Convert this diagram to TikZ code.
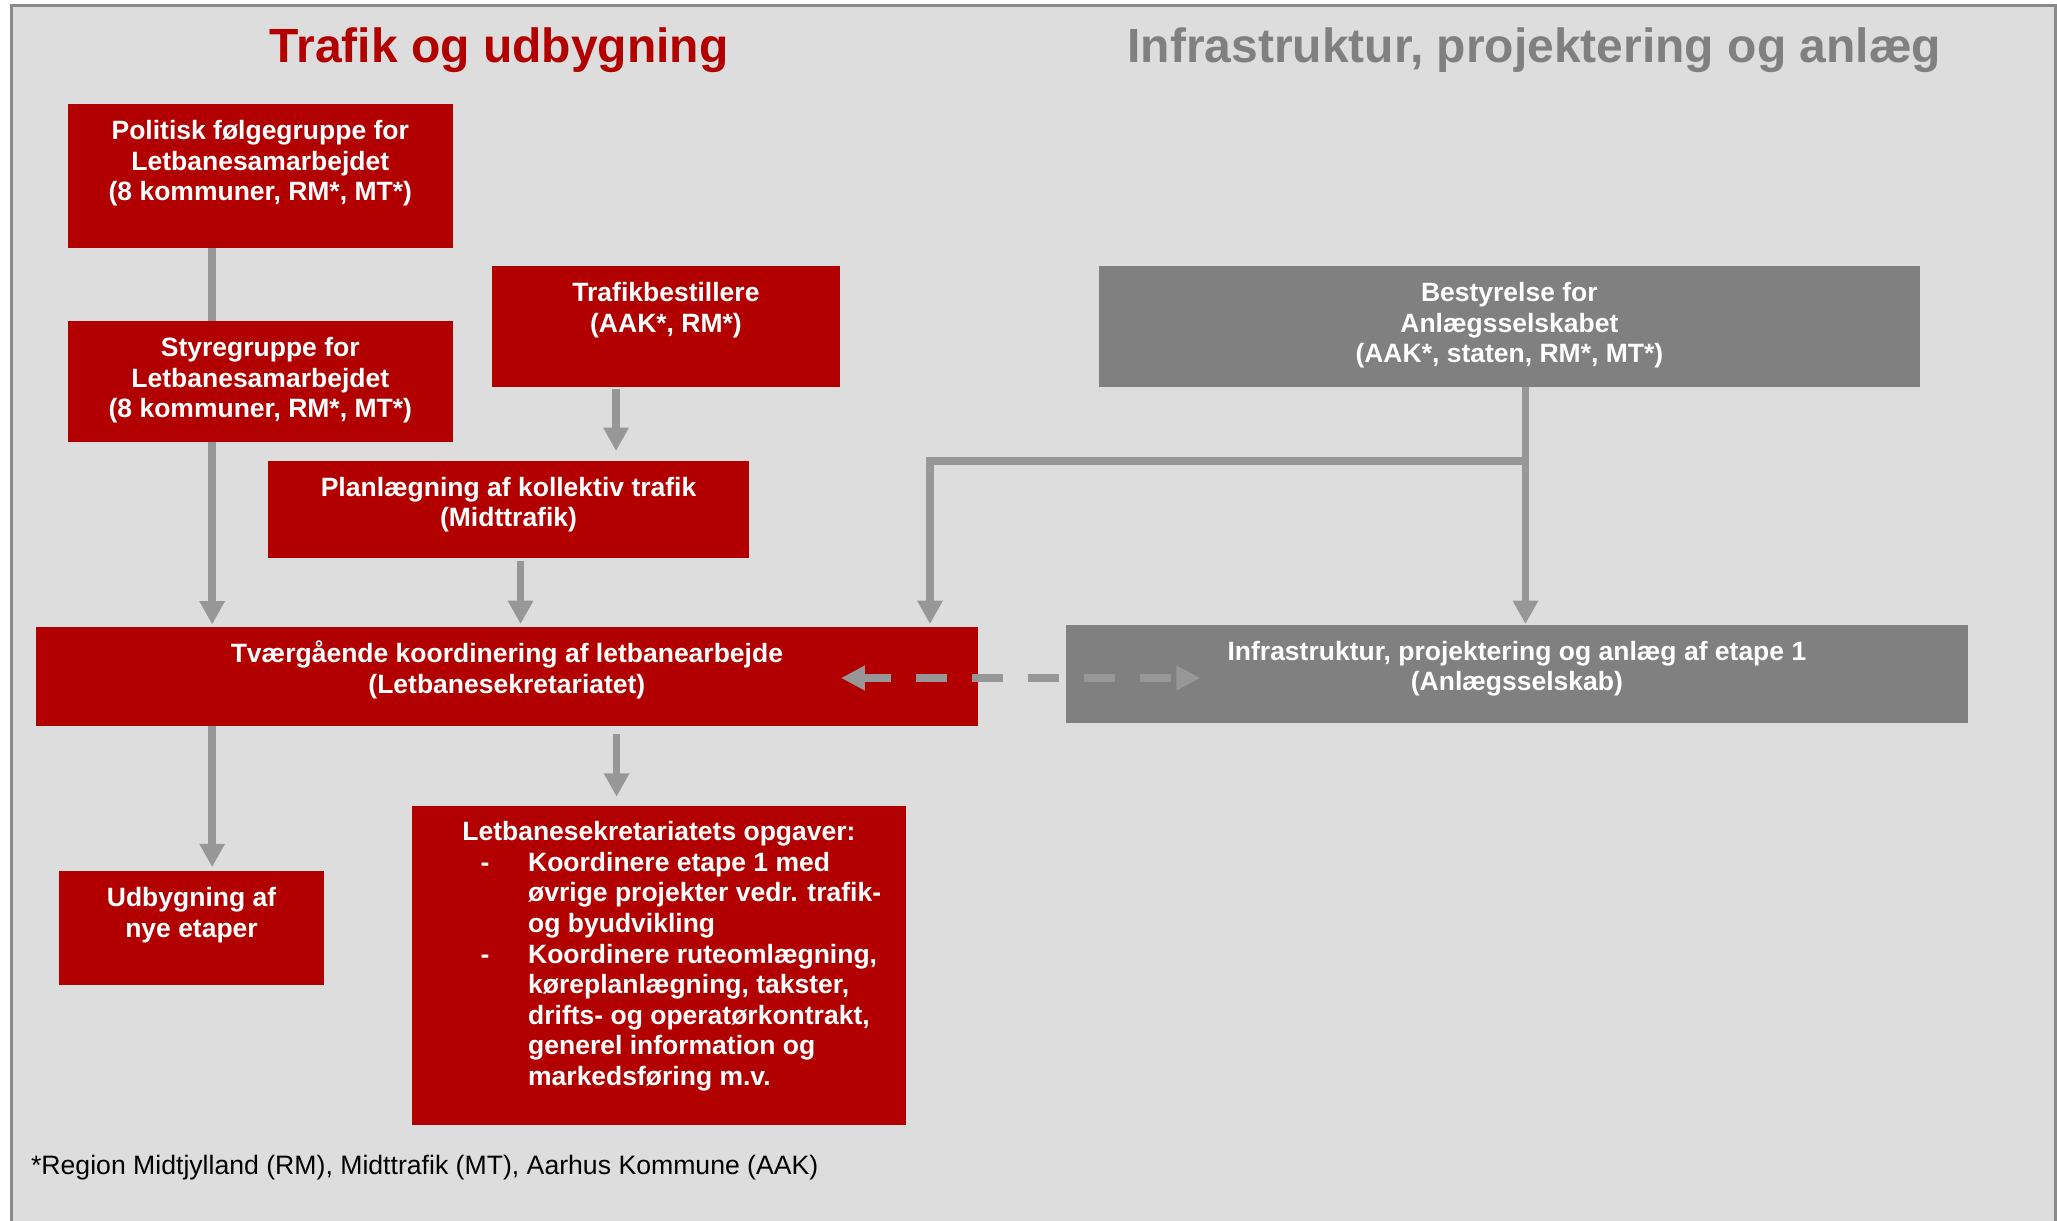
\documentclass[tikz,border=0pt]{standalone}
\usepackage{fontspec}
\setmainfont{Liberation Sans}
\usetikzlibrary{arrows.meta}
\definecolor{tred}{HTML}{B20000}
\definecolor{tgray}{HTML}{808080}
\definecolor{bgc}{HTML}{DDDDDD}
\definecolor{agray}{HTML}{979797}
\definecolor{framec}{HTML}{8A8A8A}
\newcommand{\bxt}[3]{\parbox[c][#2pt][t]{#1pt}{\centering\vspace*{8pt}\rule{0pt}{19pt}#3\par}}
\tikzset{
  rbox/.style={fill=tred, inner sep=0pt, outer sep=0pt, anchor=north west, text=white,
    font=\bfseries\fontsize{20.2}{23.3}\selectfont},
  gbox/.style={rbox, fill=tgray},
  plainline/.style={draw=agray, line width=5.9pt},
  conn/.style={plainline, -{Triangle[width=18.3pt,length=17.8pt]}},
  dconn/.style={draw=agray, line width=6.1pt, dash pattern=on 24pt off 18.7pt, dash phase=3pt,
    {Triangle[width=17.8pt,length=18.3pt]}-{Triangle[width=17.8pt,length=18.3pt]}},
  ttl/.style={anchor=base, font=\bfseries\fontsize{36.6}{40}\selectfont, inner sep=0pt}
}
\begin{document}
\begin{tikzpicture}[x=1pt, y=-1pt]
\useasboundingbox (0,0) rectangle (1568,930);
\fill[white] (0,0) rectangle (1568,930);
\fill[bgc] (8.6,4) rectangle (1567,931);
\draw[framec, line width=2pt] (8.6,932) -- (8.6,4) -- (1567,4) -- (1567,932);

% titles
\node[ttl, text=tred] (t1) at (380.5,47.5) {Trafik og udbygning};
\node[ttl, text=tgray] (t2) at (1169.5,47.5) {Infrastruktur, projektering og anlæg};

% red boxes
\node[rbox] (pol) at (51.7,79.3) {\bxt{293.4}{109.4}{Politisk følgegruppe for\\Letbanesamarbejdet\\(8 kommuner, RM*, MT*)}};
\node[rbox] (sty) at (51.7,244.7) {\bxt{293.4}{92}{Styregruppe for\\Letbanesamarbejdet\\(8 kommuner, RM*, MT*)}};
\node[rbox] (trb) at (375.3,202.8) {\bxt{264.7}{92}{Trafikbestillere\\(AAK*, RM*)}};
\node[rbox] (pla) at (204.3,351.4) {\bxt{366.7}{73.7}{Planlægning af kollektiv trafik\\(Midttrafik)}};
\node[rbox] (tva) at (27.2,478.2) {\bxt{718.4}{75.2}{Tværgående koordinering af letbanearbejde\\(Letbanesekretariatet)}};
\node[rbox] (udb) at (45,664) {\bxt{202}{87}{Udbygning af\\nye etaper}};
\node[rbox] (let) at (314,614.4) {\parbox[c][243.1pt][t]{376.6pt}{\vspace*{7.5pt}{\centering\rule{0pt}{19pt}Letbanesekretariatets opgaver:\par}\raggedright
\hspace*{52.4pt}\makebox[36.2pt][l]{-}Koordinere etape 1 med\\
\hspace*{88.6pt}øvrige projekter vedr. trafik-\\
\hspace*{88.6pt}og byudvikling\\
\hspace*{52.4pt}\makebox[36.2pt][l]{-}Koordinere ruteomlægning,\\
\hspace*{88.6pt}køreplanlægning, takster,\\
\hspace*{88.6pt}drifts- og operatørkontrakt,\\
\hspace*{88.6pt}generel information og\\
\hspace*{88.6pt}markedsføring m.v.\par}};

% gray boxes
\node[gbox] (bes) at (837.7,202.8) {\bxt{625.7}{91.9}{Bestyrelse for\\Anlægsselskabet\\(AAK*, staten, RM*, MT*)}};
\node[gbox] (inf) at (812.6,476.4) {\bxt{687.4}{74.8}{Infrastruktur, projektering og anlæg af etape 1\\(Anlægsselskab)}};

% footnote
\node[anchor=base west, inner sep=0pt, font=\fontsize{20.3}{23.3}\selectfont] (fn) at (23.5,895) {*Region Midtjylland (RM), Midttrafik (MT), Aarhus Kommune (AAK)};

% connector x positions
\coordinate (xa) at (161.7,0);
\coordinate (xb) at (469.6,0);
\coordinate (xc) at (396.8,0);
\coordinate (xd) at (470,0);
\coordinate (xe) at (1162.8,0);
\coordinate (xf) at (708.9,0);
\coordinate (jn) at (1162.8,351.5);
\coordinate (dl) at (641,516.8);
\coordinate (dr) at (915,516.8);

\draw[plainline] (pol.south -| xa) -- (sty.north -| xa);
\draw[conn, shorten >=2.2pt] (sty.south -| xa) -- (tva.north -| xa);
\draw[conn, shorten <=1.7pt, shorten >=7.6pt] (trb.south -| xb) -- (pla.north -| xb);
\draw[conn, shorten <=2.8pt, shorten >=2.5pt] (pla.south -| xc) -- (tva.north -| xc);
\draw[conn, shorten >=3pt] (tva.south -| xa) -- (udb.north -| xa);
\draw[conn, shorten <=6.3pt, shorten >=7.1pt] (tva.south -| xd) -- (let.north -| xd);
\draw[conn, shorten >=0.7pt] (bes.south -| xe) -- (inf.north -| xe);
\draw[conn, shorten >=2.5pt] (jn) -| (tva.north -| xf);
\draw[dconn] (dl) -- (dr);
\end{tikzpicture}
\end{document}
